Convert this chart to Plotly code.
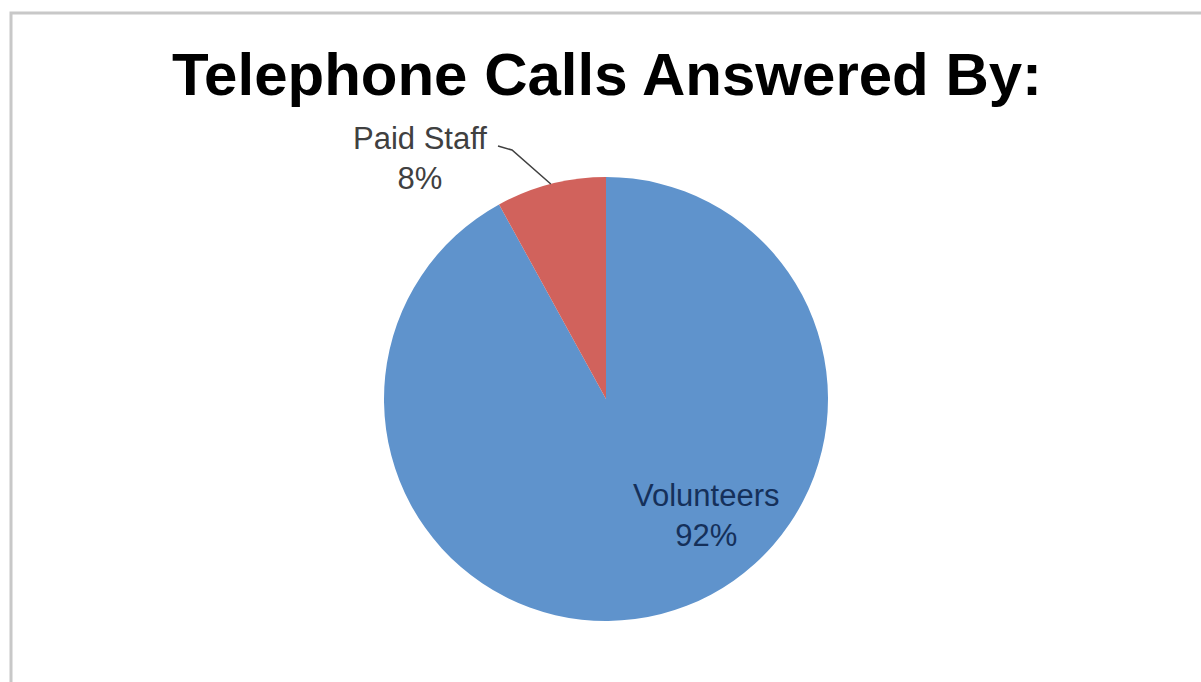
import math
import plotly.graph_objects as go

# Data
categories = ["Volunteers", "Paid Staff"]
shares = [92, 8]
slice_colors = ["#5F93CC", "#D1625C"]
title_text = "Telephone Calls Answered By:"

W, H = 1201, 682
FONT = "Liberation Sans, Arial, sans-serif"

# Pie geometry in pixels
cx, cy, r = 606, 399, 222


def px(x):
    return x / W


def py(y):
    return 1 - y / H


fig = go.Figure(
    go.Pie(
        labels=categories,
        values=shares,
        sort=False,
        direction="clockwise",
        rotation=0,
        marker=dict(colors=slice_colors, line=dict(width=0)),
        textinfo="none",
        hoverinfo="label+percent",
        showlegend=False,
        domain=dict(x=[px(cx - r), px(cx + r)], y=[py(cy + r), py(cy - r)]),
    )
)

total = sum(shares)
pct = [round(v / total * 100) for v in shares]

# Mid-angle of the Paid Staff slice (slices run clockwise from 12 o'clock)
start_deg = 90 - shares[0] / total * 360
mid_deg = start_deg - shares[1] / total * 360 / 2
edge_x = cx + r * math.cos(math.radians(mid_deg))
edge_y = cy - r * math.sin(math.radians(mid_deg))

# Leader line from the outside label to the slice edge
elbow = (512, 150)
fig.add_shape(
    type="path",
    xref="paper", yref="paper",
    path=f"M {px(498)} {py(146)} L {px(elbow[0])} {py(elbow[1])} L {px(edge_x)} {py(edge_y)}",
    line=dict(color="#404040", width=1.5),
)

# Outer frame
fig.add_shape(
    type="rect", xref="paper", yref="paper",
    x0=px(11), x1=1.05, y0=-0.05, y1=py(13),
    line=dict(color="#C8C8C8", width=3),
)

fig.add_annotation(
    x=px(420), y=py(158), xref="paper", yref="paper",
    text=f"{categories[1]}<br>{pct[1]}%",
    showarrow=False, xanchor="center", yanchor="middle",
    font=dict(family=FONT, size=31, color="#404040"),
)
fig.add_annotation(
    x=px(706), y=py(515), xref="paper", yref="paper",
    text=f"{categories[0]}<br>{pct[0]}%",
    showarrow=False, xanchor="center", yanchor="middle",
    font=dict(family=FONT, size=31, color="#15305A"),
)

fig.update_layout(
    width=W, height=H,
    margin=dict(l=0, r=0, t=0, b=0),
    paper_bgcolor="white",
    plot_bgcolor="white",
    title=dict(
        text=title_text,
        x=px(607), xanchor="center",
        y=py(74), yanchor="middle",
        font=dict(family=FONT, size=60, color="black", weight="bold"),
    ),
)

fig.write_html("out.html")
